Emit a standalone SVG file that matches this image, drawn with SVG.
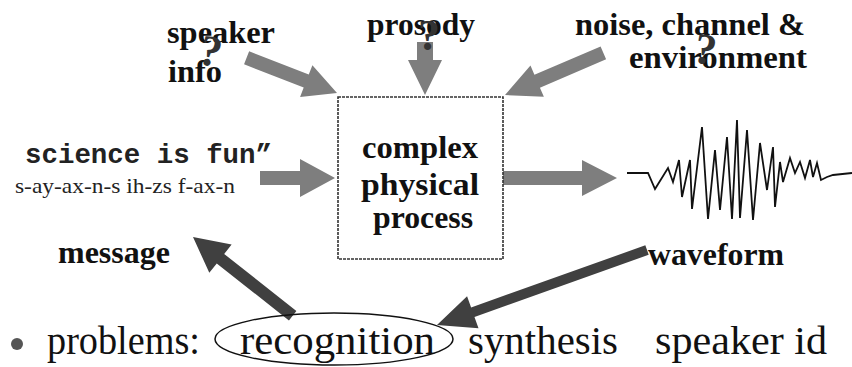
<svg xmlns="http://www.w3.org/2000/svg" width="852" height="367" viewBox="0 0 852 367">
<style>
.lbl{font-family:"Liberation Serif","Times New Roman",serif;font-weight:bold;font-size:32px;fill:#111}
.q{font-family:"Liberation Serif","Times New Roman",serif;font-weight:bold;font-size:44px;fill:#333}
.mono{font-family:"Liberation Mono","Courier New",monospace;font-weight:bold;font-size:27.5px;fill:#222}
.phon{font-family:"Liberation Serif","Times New Roman",serif;font-size:22px;fill:#222}
.bot{font-family:"Liberation Serif","Times New Roman",serif;font-size:40px;fill:#111}
.ga{fill:#7e7e7e}
.da{fill:#404040}
.box{fill:none;stroke:#333;stroke-width:1.6;stroke-dasharray:3 1}
.wave{fill:none;stroke:#111;stroke-width:1.8;stroke-linejoin:miter}
</style>
<rect width="852" height="367" fill="#fff"/>

<g id="connectors">
  <polygon class="ga" transform="translate(337,93) rotate(21.25)" points="-97,-7 -33,-7 -33,-17 0,0 -33,17 -33,7 -97,7"/>
  <polygon class="ga" transform="translate(425,95) rotate(90)" points="-53,-8 -35,-8 -35,-17 0,0 -35,17 -35,8 -53,8"/>
  <polygon class="ga" transform="translate(505,95) rotate(156.8)" points="-107,-7 -35,-7 -35,-17 0,0 -35,17 -35,7 -107,7"/>
  <polygon class="ga" transform="translate(335,178) rotate(0)" points="-75,-7 -35,-7 -35,-19 0,0 -35,19 -35,7 -75,7"/>
  <polygon class="ga" transform="translate(617,178) rotate(0)" points="-114,-7 -35,-7 -35,-18 0,0 -35,18 -35,7 -114,7"/>
  <polygon class="da" transform="translate(193,237) rotate(-141.7)" points="-127,-6 -35,-6 -35,-18 0,0 -35,18 -35,6 -127,6"/>
  <polygon class="da" transform="translate(437,325) rotate(160.35)" points="-223,-5 -38,-5 -38,-17 0,0 -38,17 -38,5 -223,5"/>
</g>

<g id="speaker-info">
  <text class="lbl" x="167" y="43" textLength="108" lengthAdjust="spacingAndGlyphs">speaker</text>
  <text class="lbl" x="168" y="82" textLength="54" lengthAdjust="spacingAndGlyphs">info</text>
  <text class="q" x="200" y="66" transform="rotate(12 212 50)">?</text>
</g>

<g id="prosody">
  <text class="lbl" x="367" y="35" textLength="108" lengthAdjust="spacingAndGlyphs">prosody</text>
  <text class="q" x="418" y="50" font-size="46">?</text>
</g>

<g id="noise">
  <text class="lbl" x="575" y="35" textLength="230" lengthAdjust="spacingAndGlyphs">noise, channel &amp;</text>
  <text class="lbl" x="629" y="68" textLength="178" lengthAdjust="spacingAndGlyphs">environment</text>
  <text class="q" x="695" y="64" transform="rotate(10 707 45)">?</text>
</g>

<g id="process">
  <rect class="box" x="338" y="97" width="165" height="162"/>
  <text class="lbl" x="420" y="158" text-anchor="middle" textLength="116" lengthAdjust="spacingAndGlyphs">complex</text>
  <text class="lbl" x="420" y="195" text-anchor="middle" textLength="118" lengthAdjust="spacingAndGlyphs">physical</text>
  <text class="lbl" x="423" y="228" text-anchor="middle" textLength="100" lengthAdjust="spacingAndGlyphs">process</text>
</g>

<g id="message-text">
  <text class="mono" x="25" y="163" textLength="247" lengthAdjust="spacingAndGlyphs">science is fun”</text>
  <text class="phon" x="15" y="193" textLength="220" lengthAdjust="spacingAndGlyphs">s-ay-ax-n-s ih-zs f-ax-n</text>
</g>

<g id="message">
  <text class="lbl" x="58" y="263" textLength="112" lengthAdjust="spacingAndGlyphs">message</text>
</g>

<g id="waveform">
  <polyline class="wave" points="627,173 648,173 655,189 668,168 673,182 679,160 682,197 690,160 692,209 702,127 708,219 715,150 720,210 727,137 732,219 737,120 740,218 747,130 753,220 760,143 767,190 773,147 775,207 780,162 783,182 790,158 795,173 800,162 805,178 810,160 813,177 817,163 821,180 827,177 833,175 852,173"/>
  <text class="lbl" x="648" y="265" textLength="136" lengthAdjust="spacingAndGlyphs">waveform</text>
</g>

<g id="problems">
  <circle cx="17" cy="344" r="6" fill="#555"/>
  <text class="bot" x="47" y="354" textLength="153" lengthAdjust="spacingAndGlyphs">problems:</text>
  <ellipse cx="334" cy="339" rx="119" ry="26" fill="none" stroke="#111" stroke-width="1.5"/>
  <text class="bot" x="240" y="354" textLength="195" lengthAdjust="spacingAndGlyphs">recognition</text>
  <text class="bot" x="468" y="354" textLength="150" lengthAdjust="spacingAndGlyphs">synthesis</text>
  <text class="bot" x="655" y="354" textLength="172" lengthAdjust="spacingAndGlyphs">speaker id</text>
</g>
</svg>
